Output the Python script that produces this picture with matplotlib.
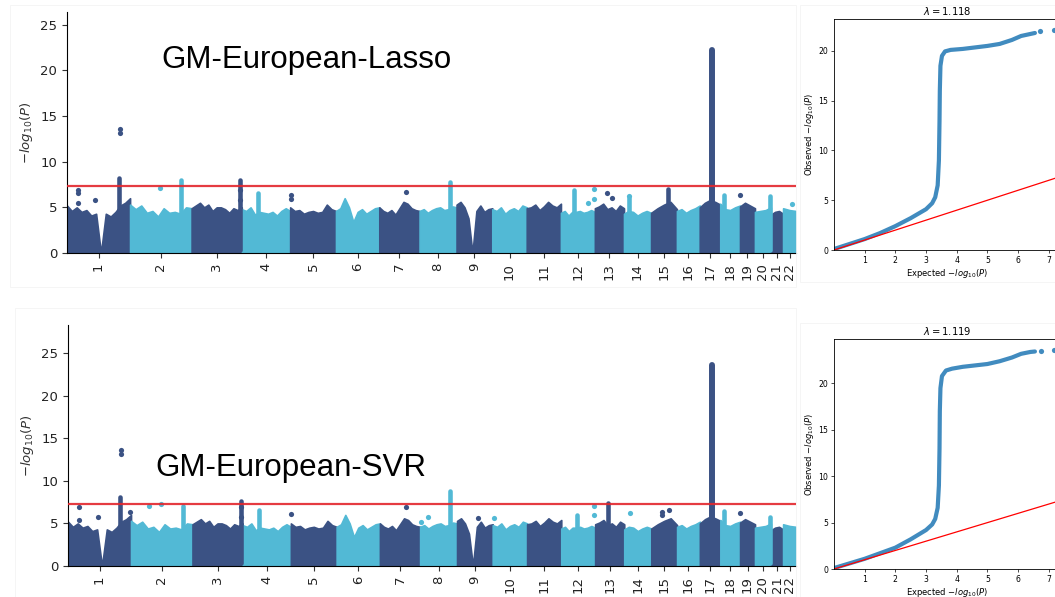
import numpy as np
import matplotlib
matplotlib.use("Agg")
import matplotlib.pyplot as plt
from matplotlib.patches import Rectangle

# chromosome lengths (Mb) and labels
chrom_names = [str(i) for i in range(1, 23)]
chrom_mb = [249, 243, 198, 191, 181, 171, 159, 146, 141, 136, 135,
            134, 115, 107, 102, 90, 81, 78, 59, 63, 48, 51]

# upper edge of the dense cloud of SNPs per chromosome (-log10 P)
env = [
    [5.2, 4.6, 5.0, 4.5, 4.7, 4.1, 4.3, 0.0, 4.3, 4.0, 4.5, 5.2, 5.5, 6.0],
    [5.3, 4.8, 5.2, 4.4, 4.6, 4.0, 4.9, 4.4, 4.5, 4.3, 5.0, 4.9],
    [4.9, 5.2, 5.5, 5.0, 5.3, 4.6, 5.0, 5.0, 4.8, 4.4, 4.9, 4.7, 5.0],
    [4.8, 4.6, 5.0, 4.2, 4.5, 4.4, 4.3, 4.5, 4.1, 4.6, 4.9, 4.6],
    [5.0, 4.6, 4.7, 4.3, 4.5, 4.6, 4.4, 4.5, 5.3, 4.8, 4.6],
    [4.6, 4.9, 6.0, 5.0, 3.4, 4.5, 4.8, 4.3, 4.6, 4.9, 5.0],
    [5.0, 4.6, 4.4, 4.7, 4.2, 4.9, 5.6, 5.4, 4.9, 4.7, 4.6],
    [4.6, 4.8, 4.4, 4.7, 4.9, 5.0, 4.7, 4.8, 5.1, 5.0],
    [5.3, 5.6, 5.0, 3.8, 0.0, 4.6, 5.2, 4.5, 4.8, 4.9],
    [4.8, 4.6, 5.0, 4.3, 4.7, 4.9, 4.6, 5.2, 5.0],
    [4.9, 5.0, 5.3, 4.7, 5.1, 5.6, 5.2, 5.0, 5.4],
    [4.4, 4.6, 4.1, 4.5, 4.5, 4.6, 4.4, 4.5, 4.7, 4.5],
    [4.9, 5.1, 5.4, 4.8, 5.0, 4.6, 5.2, 4.9],
    [4.3, 4.6, 4.5, 4.1, 4.4, 4.6, 4.4],
    [4.4, 4.9, 5.3, 5.6, 4.8],
    [4.6, 4.8, 4.4, 4.7, 4.9, 5.2],
    [5.0, 5.5, 5.8, 5.6, 5.3],
    [5.4, 4.8, 4.7, 5.0, 5.2],
    [5.1, 5.5, 5.2, 4.9],
    [4.5, 4.6, 4.7, 5.0],
    [4.2, 4.5, 4.6, 4.3],
    [4.9, 4.7, 4.6],
]

# columns of hits: (chromosome index, fraction along chromosome, top)
lasso_cols = [(0, 0.83, 8.2), (1, 0.82, 8.0), (2, 0.97, 8.0), (3, 0.34, 6.6),
              (7, 0.82, 7.8), (11, 0.39, 6.9), (13, 0.2, 6.0), (14, 0.67, 7.0),
              (16, 0.58, 22.2), (17, 0.17, 6.4), (19, 0.95, 6.2)]
# isolated points: (chromosome index, fraction, value)
lasso_dots = [(0, 0.84, 13.2), (0, 0.84, 13.6), (0, 0.17, 6.9), (0, 0.17, 6.6),
              (0, 0.17, 5.5), (0, 0.45, 5.8), (1, 0.49, 7.1), (2, 0.97, 6.9),
              (2, 0.97, 5.8), (4, 0.01, 6.3), (4, 0.01, 5.9), (6, 0.66, 6.7),
              (11, 0.98, 7.0), (11, 0.98, 5.9), (11, 0.8, 5.5), (12, 0.43, 6.6),
              (12, 0.6, 6.0), (13, 0.2, 6.2), (18, 0.02, 6.4), (21, 0.7, 5.4)]

svr_cols = [(0, 0.83, 8.1), (1, 0.84, 7.1), (2, 0.97, 7.6), (3, 0.34, 6.6),
            (7, 0.82, 8.8), (11, 0.45, 6.0), (12, 0.45, 7.4), (16, 0.58, 23.6),
            (17, 0.17, 6.5), (19, 0.95, 5.8)]
svr_dots = [(0, 0.84, 13.2), (0, 0.84, 13.6), (0, 0.17, 6.9), (0, 0.17, 5.4),
            (0, 0.47, 5.8), (0, 0.98, 6.4), (1, 0.29, 7.1), (1, 0.49, 7.3),
            (2, 0.97, 6.9), (2, 0.97, 5.8), (4, 0.01, 6.1), (6, 0.66, 6.9),
            (7, 0.02, 5.2), (7, 0.2, 5.7), (8, 0.6, 5.6), (9, 0.05, 5.6),
            (11, 0.98, 7.0), (11, 0.98, 6.0), (13, 0.2, 6.2), (14, 0.4, 6.4),
            (14, 0.4, 6.0), (14, 0.7, 6.6), (18, 0.02, 6.2)]

# QQ curves (expected vs observed -log10 P)
qq1_exp = [0, 0.5, 1, 1.5, 2, 2.5, 3, 3.2, 3.3, 3.38, 3.42, 3.44, 3.45, 3.47,
           3.52, 3.62, 3.8, 4.2, 4.6, 5.0, 5.4, 5.8, 6.1, 6.4, 6.55]
qq1_obs = [0.1, 0.6, 1.1, 1.7, 2.4, 3.2, 4.1, 4.7, 5.3, 6.5, 9, 13, 16, 18.5,
           19.5, 19.95, 20.1, 20.2, 20.35, 20.5, 20.7, 21.1, 21.5, 21.7, 21.8]
qq1_tail_exp = [6.73, 7.17]
qq1_tail_obs = [22.0, 22.1]
qq2_exp = [0, 0.5, 1, 1.5, 2, 2.5, 3, 3.2, 3.3, 3.38, 3.42, 3.44, 3.45, 3.47,
           3.52, 3.65, 3.85, 4.2, 4.6, 5.0, 5.4, 5.8, 6.1, 6.4, 6.55]
qq2_obs = [0.1, 0.6, 1.1, 1.7, 2.3, 3.2, 4.2, 4.8, 5.4, 6.6, 9, 13, 17, 19.5,
           20.8, 21.4, 21.6, 21.8, 21.95, 22.1, 22.4, 22.8, 23.2, 23.4, 23.45]
qq2_tail_exp = [6.74, 7.17]
qq2_tail_obs = [23.5, 23.6]

dark = '#3b5284'
light = '#52b9d5'
starts = np.concatenate([[0], np.cumsum(chrom_mb)[:-1]])
total = sum(chrom_mb)
mids = starts + np.array(chrom_mb) / 2.0


def manhattan(ax, cols, dots, ymax):
    for i, (s, L) in enumerate(zip(starts, chrom_mb)):
        c = dark if i % 2 == 0 else light
        x = s + np.linspace(0, 1, len(env[i])) * L
        ax.fill_between(x, 0, env[i], color=c, lw=1.2, edgecolor=c)
    for i, f, top in cols:
        c = dark if i % 2 == 0 else light
        xx = starts[i] + f * chrom_mb[i]
        w = 4.3 if top > 15 else 3.3
        ax.plot([xx, xx], [0.3, top], color=c, lw=w, solid_capstyle='round')
    for i, f, v in dots:
        c = dark if i % 2 == 0 else light
        ax.scatter(starts[i] + f * chrom_mb[i], v, s=14, color=c, lw=0, zorder=3)
    ax.axhline(7.3, color='#e3262c', lw=1.6, alpha=0.9, zorder=4)
    ax.set_xlim(0, total)
    ax.set_ylim(0, ymax)
    ax.set_yticks([0, 5, 10, 15, 20, 25])
    ax.set_xticks(mids)
    ax.set_xticklabels(chrom_names, rotation=90)
    ax.tick_params(labelsize=9.5, colors='#333333', labelcolor='#222222')
    ax.set_ylabel('$-log_{10}(P)$', fontsize=9.5, color='#333333')
    ax.spines['right'].set_visible(False)
    ax.spines['top'].set_visible(False)


def qq(ax, ex, ob, tex, tob, lam, ymax):
    ax.plot(ex, ob, color='#1f77b4', lw=3.0, alpha=0.85, solid_capstyle='round',
            solid_joinstyle='round')
    ax.scatter(tex, tob, s=14, color='#1f77b4', alpha=0.85, lw=0)
    ax.plot([0, 8], [0, 8], color='red', lw=0.9)
    ax.set_xlim(0, 7.4)
    ax.set_ylim(0, ymax)
    ax.set_xticks([1, 2, 3, 4, 5, 6, 7])
    ax.set_yticks([0, 5, 10, 15, 20])
    ax.tick_params(labelsize=5.6, length=2, width=0.5, pad=2)
    ax.set_xlabel('Expected $-log_{10}(P)$', fontsize=6, labelpad=1.5)
    ax.set_ylabel('Observed $-log_{10}(P)$', fontsize=6, labelpad=2)
    ax.set_title('$\\lambda = $' + lam, fontsize=7.2, pad=3)
    for sp in ax.spines.values():
        sp.set_linewidth(0.6)


fig = plt.figure(figsize=(10.55, 5.97), dpi=100)

# faint frames of the pasted panels
for (x0, y0, x1, y1) in [(10, 5, 796, 287), (15, 308, 796, 597),
                         (800, 5, 1055, 282), (800, 323, 1055, 597)]:
    fig.patches.append(Rectangle((x0 / 1055, 1 - y1 / 597), (x1 - x0) / 1055,
                                 (y1 - y0) / 597, transform=fig.transFigure,
                                 fill=False, edgecolor='#f4f4f4', lw=0.6))

ax1 = fig.add_axes([0.0635, 0.5762, 0.691, 0.4037])
manhattan(ax1, lasso_cols, lasso_dots, 26.4)
ax2 = fig.add_axes([0.0645, 0.0519, 0.690, 0.4037])
manhattan(ax2, svr_cols, svr_dots, 28.3)

ax3 = fig.add_axes([0.7905, 0.5812, 0.2152, 0.3869])
qq(ax3, qq1_exp, qq1_obs, qq1_tail_exp, qq1_tail_obs, '1.118', 23.2)
ax4 = fig.add_axes([0.7905, 0.0469, 0.2152, 0.3853])
qq(ax4, qq2_exp, qq2_obs, qq2_tail_exp, qq2_tail_obs, '1.119', 24.8)

fig.text(0.1526, 0.886, 'GM-European-Lasso', fontsize=22.5,
         family='Liberation Sans')
fig.text(0.147, 0.2027, 'GM-European-SVR', fontsize=22.5,
         family='Liberation Sans')

fig.savefig('out.png', dpi=100)
